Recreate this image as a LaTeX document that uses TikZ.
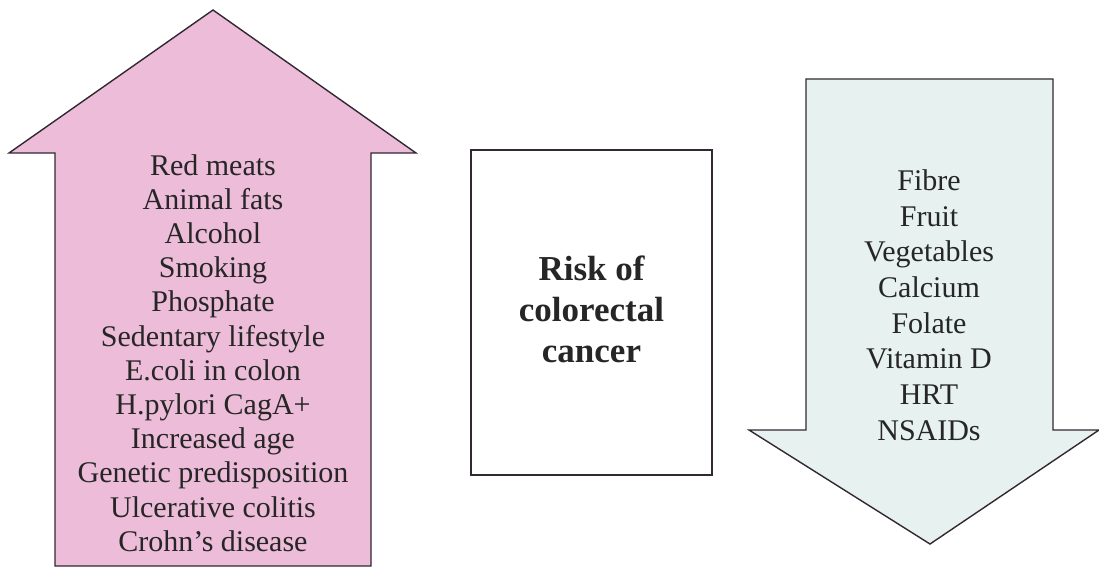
\documentclass[tikz,border=0pt]{standalone}
\usepackage{fontspec}
\setmainfont{Liberation Serif}
\definecolor{riskpink}{RGB}{236,188,216}
\definecolor{protpale}{RGB}{231,242,240}
\definecolor{edgegray}{RGB}{50,40,50}
\tikzset{
  arrowshape/.style={draw=edgegray, line width=1.4pt, line join=miter},
  listtext/.style={align=center, font=\fontsize{30}{34.2}\selectfont, text=black!85, inner sep=0pt},
  centertext/.style={align=center, font=\fontsize{35}{41}\selectfont\bfseries, text=black!85, inner sep=0pt},
  centerbox/.style={draw=edgegray, line width=1.4pt, fill=white}
}
\begin{document}
\begin{tikzpicture}[x=1pt,y=-1pt]
\useasboundingbox (0,0) rectangle (1099,568);
% left (up) arrow
\draw[arrowshape, fill=riskpink] (213,10) -- (416,153) -- (371,153) -- (371,566) -- (55,566) -- (55,153) -- (9,153) -- cycle;
\node[listtext] (risks) at (213,353) {Red meats\\Animal fats\\Alcohol\\Smoking\\Phosphate\\Sedentary lifestyle\\E.coli in colon\\H.pylori CagA+\\Increased age\\Genetic predisposition\\Ulcerative colitis\\Crohn’s disease};
% centre box
\node[centerbox, minimum width=241pt, minimum height=325pt, inner sep=0pt] (box) at (591.5,312.5) {};
\node[centertext] (label) at (591.5,309) {Risk of\\colorectal\\cancer};
% right (down) arrow
\draw[arrowshape, fill=protpale] (806,79) -- (1053,79) -- (1053,430) -- (1099,430) -- (930,544) -- (749,430) -- (806,430) -- cycle;
\node[listtext, font=\fontsize{30}{35.7}\selectfont] (protect) at (929,305) {Fibre\\Fruit\\Vegetables\\Calcium\\Folate\\Vitamin D\\HRT\\NSAIDs};
\end{tikzpicture}
\end{document}
